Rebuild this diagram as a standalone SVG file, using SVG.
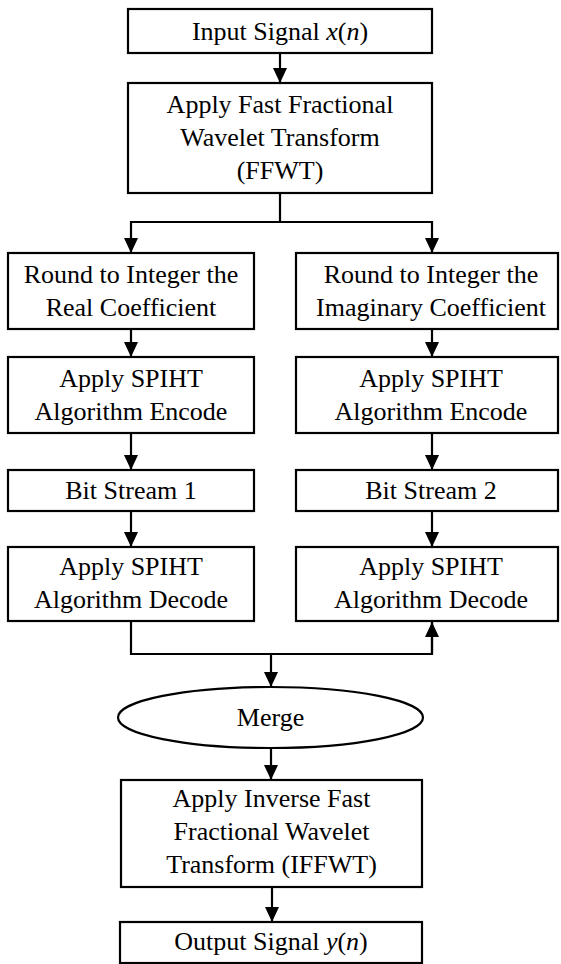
<svg xmlns="http://www.w3.org/2000/svg" width="561" height="964" viewBox="0 0 561 964">
  <style>
    .box { fill: #ffffff; stroke: #000000; stroke-width: 2.2; }
    .lbl { font-family: "Liberation Serif", "Times New Roman", serif; font-size: 26px; fill: #000000; text-anchor: middle; }
    .it { font-style: italic; }
    .wire { fill: none; stroke: #000000; stroke-width: 2.2; }
  </style>
  <defs>
    <marker id="arrow" viewBox="0 0 15 14" refX="15" refY="7" markerWidth="15" markerHeight="14" markerUnits="userSpaceOnUse" orient="auto">
      <path d="M0,0 L15,7 L0,14 z" fill="#000000"/>
    </marker>
  </defs>
  <rect width="561" height="964" fill="#ffffff"/>

  <g id="connectors">
    <line class="wire" x1="280" y1="53" x2="280" y2="83" marker-end="url(#arrow)"/>
    <polyline class="wire" points="280,193 280,222 131,222"/>
    <line class="wire" x1="280" y1="222" x2="432" y2="222"/>
    <line class="wire" x1="131" y1="221" x2="131" y2="253" marker-end="url(#arrow)"/>
    <line class="wire" x1="432" y1="221" x2="432" y2="253" marker-end="url(#arrow)"/>
    <line class="wire" x1="131" y1="329" x2="131" y2="357" marker-end="url(#arrow)"/>
    <line class="wire" x1="432" y1="329" x2="432" y2="357" marker-end="url(#arrow)"/>
    <line class="wire" x1="131" y1="433" x2="131" y2="470" marker-end="url(#arrow)"/>
    <line class="wire" x1="432" y1="433" x2="432" y2="470" marker-end="url(#arrow)"/>
    <line class="wire" x1="131" y1="511" x2="131" y2="547" marker-end="url(#arrow)"/>
    <line class="wire" x1="432" y1="511" x2="432" y2="547" marker-end="url(#arrow)"/>
    <polyline class="wire" points="131,621 131,654 432,654 432,621" />
    <line class="wire" x1="432" y1="653" x2="432" y2="622" marker-end="url(#arrow)"/>
    <line class="wire" x1="271" y1="654" x2="271" y2="687" marker-end="url(#arrow)"/>
    <line class="wire" x1="271" y1="748" x2="271" y2="780" marker-end="url(#arrow)"/>
    <line class="wire" x1="272" y1="887" x2="272" y2="922" marker-end="url(#arrow)"/>
  </g>

  <g id="input">
    <rect class="box" x="128" y="9" width="304" height="44"/>
    <text class="lbl" x="280" y="40">Input Signal <tspan class="it">x</tspan>(<tspan class="it">n</tspan>)</text>
  </g>

  <g id="ffwt">
    <rect class="box" x="128" y="83" width="304" height="110"/>
    <text class="lbl" x="280" y="113">Apply Fast Fractional</text>
    <text class="lbl" x="280" y="146">Wavelet Transform</text>
    <text class="lbl" x="280" y="179">(FFWT)</text>
  </g>

  <g id="round-real">
    <rect class="box" x="8" y="253" width="246" height="76"/>
    <text class="lbl" x="131" y="283">Round to Integer the</text>
    <text class="lbl" x="131" y="316">Real Coefficient</text>
  </g>

  <g id="round-imag">
    <rect class="box" x="296" y="253" width="262" height="76"/>
    <text class="lbl" x="431" y="283">Round to Integer the</text>
    <text class="lbl" x="431" y="316">Imaginary Coefficient</text>
  </g>

  <g id="encode-1">
    <rect class="box" x="8" y="357" width="246" height="76"/>
    <text class="lbl" x="131" y="387">Apply SPIHT</text>
    <text class="lbl" x="131" y="420">Algorithm Encode</text>
  </g>

  <g id="encode-2">
    <rect class="box" x="296" y="357" width="262" height="76"/>
    <text class="lbl" x="431" y="387">Apply SPIHT</text>
    <text class="lbl" x="431" y="420">Algorithm Encode</text>
  </g>

  <g id="bitstream-1">
    <rect class="box" x="8" y="470" width="246" height="41"/>
    <text class="lbl" x="131" y="499">Bit Stream 1</text>
  </g>

  <g id="bitstream-2">
    <rect class="box" x="296" y="470" width="262" height="41"/>
    <text class="lbl" x="431" y="499">Bit Stream 2</text>
  </g>

  <g id="decode-1">
    <rect class="box" x="8" y="547" width="246" height="74"/>
    <text class="lbl" x="131" y="575">Apply SPIHT</text>
    <text class="lbl" x="131" y="608">Algorithm Decode</text>
  </g>

  <g id="decode-2">
    <rect class="box" x="296" y="547" width="262" height="74"/>
    <text class="lbl" x="431" y="575">Apply SPIHT</text>
    <text class="lbl" x="431" y="608">Algorithm Decode</text>
  </g>

  <g id="merge">
    <ellipse class="box" cx="270.5" cy="717.5" rx="152.5" ry="30.5"/>
    <text class="lbl" x="270.5" y="726">Merge</text>
  </g>

  <g id="iffwt">
    <rect class="box" x="121" y="780" width="301" height="107"/>
    <text class="lbl" x="271.5" y="807">Apply Inverse Fast</text>
    <text class="lbl" x="271.5" y="840">Fractional Wavelet</text>
    <text class="lbl" x="271.5" y="873">Transform (IFFWT)</text>
  </g>

  <g id="output">
    <rect class="box" x="120" y="922" width="302" height="41"/>
    <text class="lbl" x="271" y="950">Output Signal <tspan class="it">y</tspan>(<tspan class="it">n</tspan>)</text>
  </g>
</svg>
